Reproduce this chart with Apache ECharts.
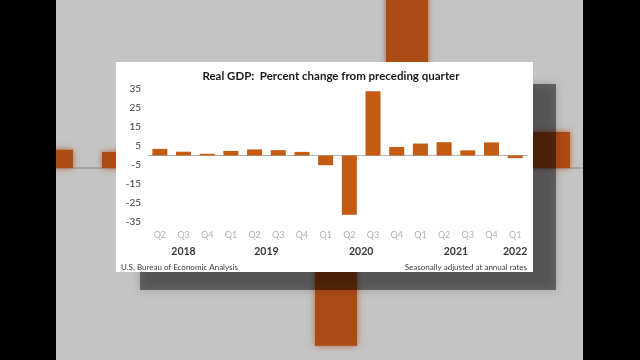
<!DOCTYPE html>
<html><head><meta charset="utf-8">
<script src="https://cdn.jsdelivr.net/npm/echarts@6/dist/echarts.min.js"></script>
<style>html,body{margin:0;padding:0;background:#c4c4c4}#c{width:640px;height:360px}</style>
</head><body><div id="c"></div>
<script>
// ---- data ----
const quarters = ['Q2','Q3','Q4','Q1','Q2','Q3','Q4','Q1','Q2','Q3','Q4','Q1','Q2','Q3','Q4','Q1'];
const gdpChange = [3.5, 2.0, 0.9, 2.4, 3.2, 2.8, 1.9, -5.1, -31.2, 33.8, 4.5, 6.3, 7.0, 2.7, 6.9, -1.4];
const years = ['2018', '2019', '2020', '2021', '2022'];
const quartersPerYear = [3, 4, 4, 4, 1];
const yMin = -35, yMax = 35, yStep = 10;
const titleText = 'Real GDP:  Percent change from preceding quarter';
const sourceText = 'U.S. Bureau of Economic Analysis';
const noteText = 'Seasonally adjusted at annual rates';

// year label centres and group separators (in category index units)
const yearCenters = {};
const separators = [];
let start = 0;
quartersPerYear.forEach((n, i) => {
  yearCenters[(start + (n - 1) / 2).toFixed(1)] = years[i];
  if (i > 0) separators.push(start - 0.5);
  start += n;
});

const BAR = '#C55A11';
const chart = echarts.init(document.getElementById('c'), null, {renderer: 'canvas'});
const font = 'Lato, "Open Sans", sans-serif';

const option = {
  backgroundColor: '#c4c4c4',
  animation: false,
  title: {
    text: titleText, left: 326, top: 65, textAlign: 'center', z: 12,
    textStyle: {fontFamily: font, fontWeight: 'bold', fontSize: 11.5, color: '#1a1a1a'}
  },
  grid: [
    {left: -267.5, top: -60, width: 1136, height: 456, outerBoundsMode: 'none', containLabel: false},   // blurred zoomed background
    {left: 148, top: 89, width: 379, height: 133, outerBoundsMode: 'none'}         // foreground chart
  ],
  xAxis: [
    {type: 'category', gridIndex: 0, data: quarters, axisLabel: {show: false}, axisTick: {show: false},
     axisLine: {lineStyle: {color: '#a8a8a8', width: 2}}, z: 1},
    {type: 'category', gridIndex: 1, data: quarters, z: 10,
     axisLine: {onZero: true, lineStyle: {color: '#b0b0b0', width: 1}}, axisTick: {show: false},
     axisLabel: {color: '#b2b2b2', fontSize: 9, fontFamily: font, margin: 9, interval: 0}},
    {type: 'value', gridIndex: 1, position: 'bottom', min: -0.5, max: 15.5, interval: 0.5, z: 10,
     axisLine: {show: false}, axisTick: {show: false}, splitLine: {show: false},
     axisLabel: {margin: 24, fontSize: 10.5, fontWeight: 'bold', color: '#3a3a3a', fontFamily: font,
       showMinLabel: true, showMaxLabel: true,
       formatter: v => yearCenters[Number(v).toFixed(1)] || ''}}
  ],
  yAxis: [
    {type: 'value', gridIndex: 0, min: -40, max: 40, show: false},
    {type: 'value', gridIndex: 1, min: yMin, max: yMax, interval: yStep, z: 10,
     axisLine: {show: false}, axisTick: {show: false}, splitLine: {show: false},
     axisLabel: {color: '#3a3a3a', fontSize: 10, fontFamily: font, margin: 7}}
  ],
  series: [
    {type: 'bar', xAxisIndex: 0, yAxisIndex: 0, data: gdpChange, barWidth: 42, z: 1,
     itemStyle: {color: '#ad4b15', shadowBlur: 6, shadowColor: 'rgba(173,75,21,0.8)'}},
    {type: 'bar', xAxisIndex: 1, yAxisIndex: 1, data: gdpChange, barWidth: 15, z: 11,
     itemStyle: {color: BAR}},
    {type: 'line', xAxisIndex: 2, yAxisIndex: 1, data: [], z: 10,
     markLine: {silent: true, symbol: 'none', label: {show: false},
       lineStyle: {color: '#ececec', type: 'solid', width: 1},
       data: separators.map(x => ({xAxis: x}))}}
  ],
  graphic: [
    {type: 'rect', z: 5, shape: {x: 140, y: 84, width: 416, height: 206},
     style: {fill: 'rgba(0,0,0,0.45)', shadowBlur: 8, shadowColor: 'rgba(0,0,0,0.45)'}},
    {type: 'rect', z: 6, shape: {x: 116, y: 62, width: 417, height: 210}, style: {fill: '#ffffff'}},
    {type: 'text', z: 12, left: 121, top: 263,
     style: {text: sourceText, fill: '#3a3a3a', font: '8px ' + font}},
    {type: 'text', z: 12, right: 113, top: 263,
     style: {text: noteText, fill: '#3a3a3a', font: '8px ' + font}},
    {type: 'rect', z: 20, shape: {x: 0, y: 0, width: 56, height: 360}, style: {fill: '#000'}},
    {type: 'rect', z: 20, shape: {x: 583, y: 0, width: 57, height: 360}, style: {fill: '#000'}}
  ]
};
chart.setOption(option);
</script></body></html>
